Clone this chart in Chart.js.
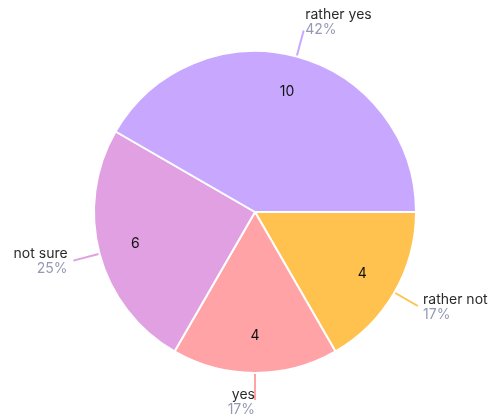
<!DOCTYPE html>
<html>
<head>
<meta charset="utf-8">
<script src="https://cdn.jsdelivr.net/npm/chart.js@4/dist/chart.umd.min.js"></script>
<style>
  html, body { margin: 0; padding: 0; background: #fff; }
  canvas { display: block; }
</style>
</head>
<body>
<canvas id="answers" width="488" height="416"></canvas>
<script>
const labels = ['rather not', 'yes', 'not sure', 'rather yes'];
const counts = [4, 4, 6, 10];
const colors = ['#ffc24f', '#ffa3a6', '#e0a0e2', '#c8a8ff'];

const FONT = 'Inter, "Open Sans", sans-serif';

// values inside the slices, names and shares outside on short leader lines
const sliceLabels = {
    id: 'sliceLabels',
    afterDatasetsDraw(chart) {
        const ctx = chart.ctx;
        const meta = chart.getDatasetMeta(0);
        const total = counts.reduce((a, b) => a + b, 0);
        meta.data.forEach((arc, i) => {
            const p = arc.getProps(['x', 'y', 'startAngle', 'endAngle', 'outerRadius'], true);
            const mid = (p.startAngle + p.endAngle) / 2;
            const cos = Math.cos(mid), sin = Math.sin(mid);

            ctx.save();
            ctx.font = '14px ' + FONT;
            ctx.fillStyle = '#111';
            ctx.textAlign = 'center';
            ctx.textBaseline = 'middle';
            const ri = p.outerRadius * 0.77;
            ctx.fillText(String(counts[i]), p.x + cos * ri, p.y + sin * ri);

            const r0 = p.outerRadius + 1, r1 = p.outerRadius + 27;
            const ex = p.x + cos * r1, ey = p.y + sin * r1;
            ctx.strokeStyle = colors[i];
            ctx.lineWidth = 2;
            ctx.beginPath();
            ctx.moveTo(p.x + cos * r0, p.y + sin * r0);
            ctx.lineTo(ex, ey);
            ctx.stroke();

            const tx = ex + cos * 6;
            const cy = ey + (sin < 0 ? sin * 8 : sin * 2);
            ctx.textAlign = cos > 0.01 ? 'left' : 'right';
            ctx.fillStyle = '#2a2a2a';
            ctx.fillText(labels[i], tx, cy - 7.5);
            ctx.fillStyle = '#9499b2';
            ctx.fillText(Math.round(counts[i] / total * 100) + '%', tx, cy + 7.5);
            ctx.restore();
        });
    }
};

new Chart(document.getElementById('answers'), {
    type: 'pie',
    data: {
        labels: labels,
        datasets: [{
            data: counts,
            backgroundColor: colors,
            borderColor: '#fff',
            borderWidth: 2
        }]
    },
    options: {
        responsive: false,
        animation: false,
        rotation: 90,
        layout: {
            padding: { top: 50, bottom: 42, left: 93, right: 71 }
        },
        plugins: {
            legend: { display: false },
            tooltip: { enabled: false }
        }
    },
    plugins: [sliceLabels]
});
</script>
</body>
</html>
